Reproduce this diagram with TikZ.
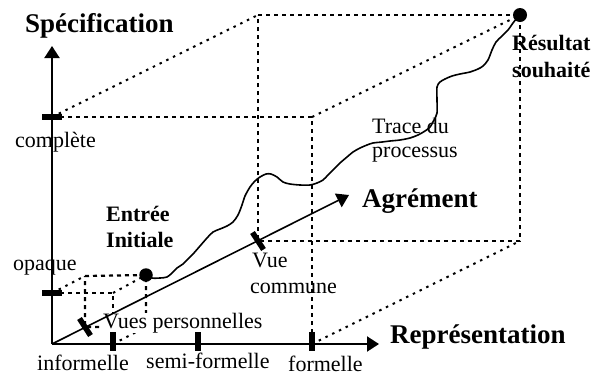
\documentclass[tikz,border=0pt]{standalone}
\usepackage{fontspec}
\setmainfont{Liberation Serif}
\usetikzlibrary{arrows.meta}
\begin{document}
\begin{tikzpicture}[x=1pt,y=-1pt,
  axisline/.style={line width=2pt},
  arr/.style={-{Triangle[length=12pt,width=15pt]}},
  dsh/.style={line width=2.2pt, dash pattern=on 4pt off 4pt},
  dtt/.style={line width=2pt, dash pattern=on 2.5pt off 5pt},
  tickmark/.style={line width=5.5pt},
  trace/.style={line width=1.6pt, line join=round},
  biglbl/.style={font=\fontsize{27}{29}\selectfont\bfseries, inner sep=0pt, anchor=base west},
  lbl/.style={font=\fontsize{22}{24}\selectfont, inner sep=0pt, anchor=base west},
  blbl/.style={font=\fontsize{22}{24}\selectfont\bfseries, inner sep=0pt, anchor=base west},
  bigdot/.style={circle, fill, inner sep=0pt}
]
\useasboundingbox (0,0) rectangle (591,376);
% key points
\coordinate (O) at (52,344);
\coordinate (C) at (52,117);
\coordinate (Op) at (52,293);
\coordinate (I) at (113,344);
\coordinate (S) at (198,344);
\coordinate (F) at (312,344);
\coordinate (FT) at (312,117);
\coordinate (BTL) at (258,15);
\coordinate (BBL) at (258,241);
\coordinate (BBR) at (520,241);
\coordinate (sFT) at (113,293);
\coordinate (sBTL) at (85,276);
\coordinate (sBBL) at (85,327);
\coordinate (sBBR) at (146,327);
\coordinate (Vtip) at (52,46);
\coordinate (Htip) at (379,344);
\coordinate (Atip) at (349,195);
\node[bigdot, minimum size=13.5pt] (entree) at (146,275) {};
\node[bigdot, minimum size=14pt] (resultat) at (520,15) {};
% big box
\draw[dsh] (C) -- (FT) -- (F);
\draw[dsh] (O) -- (F);
\draw[dsh] (BTL) -- (resultat.center) -- (BBR) -- (BBL) -- cycle;
\draw[dtt] (C) -- (BTL);
\draw[dtt] (FT) -- (resultat.center);
\draw[dtt] (F) -- (BBR);
% small box
\draw[dsh] (Op) -- (sFT) -- (I);
\draw[dsh] (sBTL) -- (entree.center) -- (sBBR) -- (sBBL) -- cycle;
\draw[dtt] (Op) -- (sBTL);
\draw[dtt] (sFT) -- (entree.center);
\draw[dtt] (I) -- (sBBR);
% trace
\draw[trace] plot[smooth, tension=0.5] coordinates {(entree.center) (152,278) (160,278) (167,277) (172,273) (177,268) (183,264) (187,260) (193,254) (200,246) (207,238) (213,232) (220,229) (227,226) (233,222) (238,215) (242,205) (245,196) (250,187) (255,181) (260,177) (266,174) (271,174) (277,177) (283,182) (290,184) (300,185) (310,185) (317,183) (323,180) (328,175) (333,170) (340,163) (347,157) (353,152) (360,148) (367,145) (373,143) (382,142) (390,141) (400,140) (410,138) (418,135) (425,131) (430,127) (434,120) (437,113) (437,100) (437,87) (440,82) (445,79) (452,76) (460,74) (470,72) (478,69) (483,66) (488,60) (492,50) (496,42) (502,36) (508,30) (513,23) (517,18) (resultat.center)};
% labels
\node[biglbl] (spec) at (25,32) {Spécification};
\node[biglbl] (repr) at (390,343) {Représentation};
\node[biglbl] (agr) at (362,207) {Agrément};
\node[lbl] (compl) at (15,147) {complète};
\node[lbl] (opaq) at (13,270) {opaque};
\node[lbl] (inf) at (37,370) {informelle};
\node[lbl] (semi) at (146,368) {semi-formelle};
\node[lbl] (form) at (288,371) {formelle};
\node[lbl, fill=white] (vues) at (103,328) {Vues personnelles};
\node[lbl] (vue1) at (252,267) {Vue};
\node[lbl] (vue2) at (250,293) {commune};
\node[lbl] (trace1) at (372,133) {Trace du};
\node[lbl] (trace2) at (372,157) {processus};
\node[blbl] (ent1) at (106,221) {Entrée};
\node[blbl] (ent2) at (106,247) {Initiale};
\node[blbl] (res1) at (512,50) {Résultat};
\node[blbl] (res2) at (512,77) {souhaité};
% axes
\draw[axisline, arr] (O) -- (Vtip);
\draw[axisline, arr] (O) -- (Htip);
\draw[line width=1.6pt, arr] (O) -- (Atip);
% ticks
\draw[tickmark] ([xshift=-10pt]C) -- ([xshift=10pt]C);
\draw[tickmark] ([xshift=-10pt]Op) -- ([xshift=10pt]Op);
\draw[tickmark] ([yshift=12pt]I) -- ([yshift=-7pt]I);
\draw[tickmark] ([yshift=12pt]S) -- ([yshift=-7pt]S);
\draw[tickmark] ([yshift=12pt]F) -- ([yshift=-7pt]F);
\draw[tickmark] ([shift={(-5.5,-8.5)}]sBBL) -- ([shift={(5.5,8.5)}]sBBL);
\draw[tickmark] ([shift={(-5.5,-8.5)}]BBL) -- ([shift={(5.5,8.5)}]BBL);
\end{tikzpicture}
\end{document}
